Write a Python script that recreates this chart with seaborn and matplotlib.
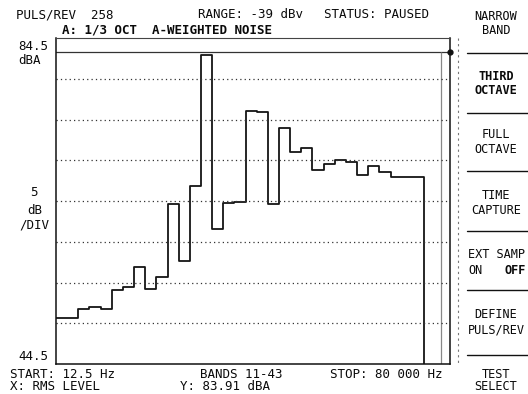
import numpy as np
import pandas as pd
import matplotlib
matplotlib.use("Agg")
import matplotlib.pyplot as plt
import seaborn as sns
from matplotlib.lines import Line2D

# 1/3 octave bands 11..43, A-weighted level per band (dBA)
bands = list(range(11, 44))
levels = [50.1, 50.2, 51.3, 51.5, 51.2, 53.6, 54.0, 56.4, 53.7, 55.2,
          64.1, 57.1, 66.4, 82.4, 61.1, 64.2, 64.4, 75.5, 75.4, 64.1,
          73.4, 70.5, 71.0, 68.3, 69.0, 69.5, 69.3, 67.7, 68.8, 68.0,
          67.5, 67.5, 67.5]
total_level = 82.8      # overall level column at the right end
total_band = 45.0
y_bottom, y_top = 44.5, 84.5
grid_levels = [49.5, 54.5, 59.5, 64.5, 69.5, 74.5, 79.5]

sns.set_theme(style="white")
plt.rcParams['font.family'] = ['DejaVu Sans Mono', 'DejaVu Sans']

fig = plt.figure(figsize=(5.28, 3.94), dpi=100)
ax = fig.add_axes([0.1061, 0.0761, 0.7462, 0.8274])

# step trace
xs = [b - 0.5 for b in bands] + [bands[-1] + 0.5, bands[-1] + 0.5]
ys = levels + [levels[-1], y_bottom]
trace = pd.DataFrame({'x': xs, 'y': ys})
sns.lineplot(data=trace, x='x', y='y', drawstyle='steps-post', sort=False,
             estimator=None, color='#151515', linewidth=1.3, ax=ax)

# total column + cursor line
ax.axhline(total_level, color='#333333', linewidth=0.9)
ax.vlines(total_band, y_bottom, total_level, color='#888888', linewidth=0.9)
ax.plot([10.5 + 394 / 11.15], [total_level], 'o', color='#111111',
        markersize=3.5, clip_on=False)

for g in grid_levels:
    ax.axhline(g, color='#333333', linewidth=0.9, linestyle=(0, (1, 2.5)))

ax.set_xlim(10.5, 10.5 + 394 / 11.15)
ax.set_ylim(y_bottom, y_top)
ax.set_xticks([])
ax.set_yticks([])
ax.set_xlabel('')
ax.set_ylabel('')
for s in ['left', 'bottom', 'right']:
    ax.spines[s].set_color('#111111')
    ax.spines[s].set_linewidth(1.1)
ax.spines['top'].set_color('#444444')
ax.spines['top'].set_linewidth(0.8)

# dotted separator right of the graticule
fig.add_artist(Line2D([458 / 528, 458 / 528], [1 - 38 / 394, 1 - 364 / 394],
                      color='#777777', linewidth=0.8, linestyle=(0, (2, 3))))

# softkey separators
for yy in [52.7, 113.3, 171, 230.7, 290, 355]:
    fig.add_artist(Line2D([467 / 528, 1.0], [1 - yy / 394, 1 - yy / 394],
                          color='#111111', linewidth=1.0))

tc = '#0a0a0a'


def txt(x, y, s, ha='left', weight='normal', fs=9):
    fig.text(x / 528, 1 - y / 394, s, ha=ha, va='center', fontsize=fs,
             color=tc, fontweight=weight)


# header
txt(16, 15, 'PULS/REV  258')
txt(198, 15, 'RANGE: -39 dBv')
txt(324, 15, 'STATUS: PAUSED')
txt(62, 30, 'A: 1/3 OCT  A-WEIGHTED NOISE', weight='bold')

# left scale labels
txt(18, 46, '84.5')
txt(18, 61, 'dBA')
txt(34, 193, '5', ha='center')
txt(35, 210, 'dB', ha='center')
txt(34, 225, '/DIV', ha='center')
txt(18, 356, '44.5')

# footer
txt(10, 374, 'START: 12.5 Hz')
txt(200, 374, 'BANDS 11-43')
txt(330, 374, 'STOP: 80 000 Hz')
txt(10, 387, 'X: RMS LEVEL')
txt(180, 387, 'Y: 83.91 dBA')

# softkeys
softkeys = [(16, 'NARROW', 'normal'), (31, 'BAND', 'normal'),
            (76, 'THIRD', 'bold'), (91, 'OCTAVE', 'bold'),
            (135, 'FULL', 'normal'), (150, 'OCTAVE', 'normal'),
            (196, 'TIME', 'normal'), (211, 'CAPTURE', 'normal'),
            (315, 'DEFINE', 'normal'), (330, 'PULS/REV', 'normal'),
            (374, 'TEST', 'normal'), (387, 'SELECT', 'normal')]
for yy, s, w in softkeys:
    txt(496, yy, s, ha='center', weight=w, fs=8.6)
txt(468, 255, 'EXT SAMP', fs=8.6)
txt(468, 270, 'ON', fs=8.6)
txt(526, 270, 'OFF', ha='right', weight='bold', fs=8.6)

fig.savefig('out.png', dpi=100, facecolor='white')
